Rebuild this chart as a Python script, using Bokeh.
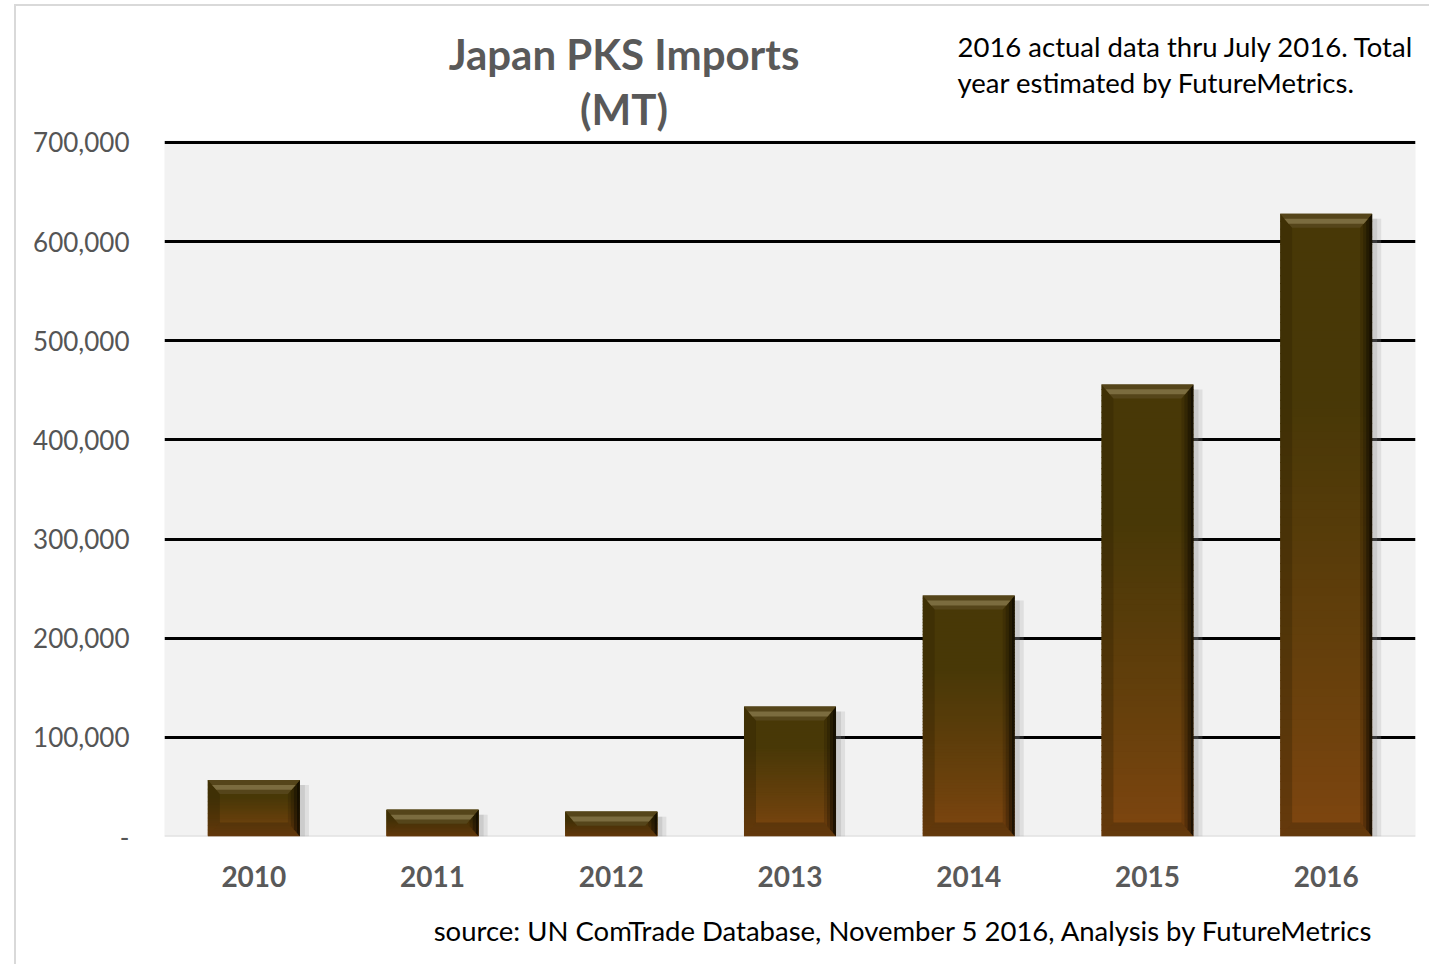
from bokeh.plotting import figure
from bokeh.models import Range1d, FixedTicker, NumeralTickFormatter, Label, Span
from bokeh.embed import file_html
from bokeh.resources import INLINE

# ---- data ----
years = ["2010", "2011", "2012", "2013", "2014", "2015", "2016"]
imports = [57000, 27000, 25000, 131000, 243000, 456000, 628000]
y_ticks = [0, 100000, 200000, 300000, 400000, 500000, 600000, 700000]

title_lines = ["Japan PKS Imports", "(MT)"]
note_lines = ["2016 actual data thru July 2016.  Total", "year estimated by FutureMetrics."]
source_text = "source: UN ComTrade Database, November 5 2016, Analysis by FutureMetrics"

# ---- layout constants ----
FRAME_W, FRAME_H = 1251, 696
Y_TOP = 702000
X_LO, X_HI = -0.5, len(years) - 0.5
px_x = (X_HI - X_LO) / FRAME_W
px_y = Y_TOP / FRAME_H
BW = 0.515
FONT = "Lato"

p = figure(width=1415, height=960, output_backend="svg", toolbar_location=None,
           x_range=Range1d(X_LO, X_HI), y_range=Range1d(0, Y_TOP),
           min_border_left=148, min_border_right=16, min_border_top=134, min_border_bottom=130)
p.margin = (6, 0, 0, 16)
p.styles = {"box-shadow": "-2px -2px 0 0 #D9D9D9"}
p.background_fill_color = "#F2F2F2"
p.border_fill_color = "white"
p.outline_line_color = None

# axes
p.yaxis.ticker = FixedTicker(ticks=y_ticks)
p.yaxis.formatter = NumeralTickFormatter(format="0,0")
p.yaxis.major_label_overrides = {0: "-"}
p.yaxis.axis_line_color = None
p.yaxis.major_tick_line_color = None
p.yaxis.minor_tick_line_color = None
p.yaxis.major_tick_out = 0
p.yaxis.major_tick_in = 0
p.yaxis.major_label_standoff = 35
p.yaxis.major_label_text_font = FONT
p.yaxis.major_label_text_font_size = "26px"
p.yaxis.major_label_text_color = "#555555"

p.xaxis.ticker = FixedTicker(ticks=list(range(len(years))))
p.xaxis.major_label_overrides = {i: y for i, y in enumerate(years)}
p.xaxis.axis_line_color = None
p.xaxis.major_tick_line_color = None
p.xaxis.minor_tick_line_color = None
p.xaxis.major_tick_out = 0
p.xaxis.major_tick_in = 0
p.xaxis.major_label_standoff = 29
p.xaxis.major_label_text_font = FONT
p.xaxis.major_label_text_font_size = "28px"
p.xaxis.major_label_text_font_style = "bold"
p.xaxis.major_label_text_color = "#595959"

p.xgrid.grid_line_color = None
p.ygrid.ticker = FixedTicker(ticks=y_ticks[1:])
p.ygrid.grid_line_color = "black"
p.ygrid.grid_line_width = 3

p.add_layout(Span(location=0, dimension="width", line_color="#D9D9D9", line_width=2, level="underlay"))

# ---- bars with gradient / bevel styling ----
def mix(c1, c2, s):
    return "#%02x%02x%02x" % tuple(int(round(a + (b - a) * s)) for a, b in zip(c1, c2))

BOTTOM_C = (0x80, 0x46, 0x10)
TOP_C = (0x48, 0x38, 0x07)
N = 80
B = 12 * px_x
BPY = 14 * px_y
EX, EY = 3 * px_x, 3.5 * px_y

sl, sr, sb, st, sc = [], [], [], [], []
shl, shr, sht = [], [], []
bev_xs, bev_ys, bev_c, bev_a = [], [], [], []
for i, v in enumerate(imports):
    l, r = i - BW / 2, i + BW / 2
    shl.append(r); shr.append(r + 9 * px_x); sht.append(max(v - 5 * px_y, 0))
    for k in range(N):
        t = (k + 0.5) / N
        s = min(1.0, t / 0.7) ** 0.85
        sl.append(l); sr.append(r)
        sb.append(v * k / N); st.append(min(v, v * (k + 1) / N + 0.8 * px_y))
        sc.append(mix(BOTTOM_C, TOP_C, s))
    # left bevel
    bev_xs.append([l, l, l + B, l + B]); bev_ys.append([v, 0, BPY, v - BPY]); bev_c.append("#2a1e04"); bev_a.append(0.3)
    # bottom bevel
    bev_xs.append([l, r, r - B, l + B]); bev_ys.append([0, 0, BPY, BPY]); bev_c.append("#3a2508"); bev_a.append(0.4)
    # right bevel: graded toward black at the edge
    for k, a in enumerate([0.85, 0.6, 0.35, 0.15]):
        d0x, d1x, d0y, d1y = k * EX, (k + 1) * EX, k * EY, (k + 1) * EY
        bev_xs.append([r - d0x, r - d0x, r - d1x, r - d1x])
        bev_ys.append([v - d0y, d0y, d1y, v - d1y])
        bev_c.append("#0e0900"); bev_a.append(a)
    # top bevel and highlight
    bev_xs.append([l, r, r - B, l + B]); bev_ys.append([v, v, v - BPY, v - BPY]); bev_c.append("#55451a"); bev_a.append(1.0)
    bev_xs.append([l + 0.35 * B, r - 0.35 * B, r - 0.7 * B, l + 0.7 * B])
    bev_ys.append([v - 0.35 * BPY, v - 0.35 * BPY, v - 0.7 * BPY, v - 0.7 * BPY])
    bev_c.append("#807044"); bev_a.append(0.9)

p.quad(left=shl, right=shr, top=sht, bottom=[0] * len(shl), fill_color="#9a9a9a", fill_alpha=0.22, line_color=None)
p.quad(left=shl, right=[x - 4 * px_x for x in shr], top=sht, bottom=[0] * len(shl), fill_color="#8a8a8a", fill_alpha=0.22, line_color=None)
p.quad(left=sl, right=sr, bottom=sb, top=st, fill_color=sc, line_color=None)
p.patches(xs=bev_xs, ys=bev_ys, fill_color=bev_c, fill_alpha=bev_a, line_color=None)

# ---- texts in side panels (each panel is stacked outward from the frame) ----
def add_text(side, x, y, text, size, bold=False, color="black", align="left"):
    p.add_layout(Label(x=x, y=y, x_units="screen", y_units="screen", text=text,
                       text_font=FONT, text_font_size=size,
                       text_font_style="bold" if bold else "normal", text_color=color,
                       text_align=align, text_baseline="middle"), side)

add_text("above", 459.5, 32, title_lines[1], "42px", True, "#595959", "center")
add_text("above", 459.5, 36.6, title_lines[0], "42px", True, "#595959", "center")
add_text("above", 793, -5.8, note_lines[0], "27.5px")
add_text("below", 1209, -7.8, source_text, "27.5px", align="right")
add_text("below", 793, 873.2, note_lines[1], "27.5px")

open("out.html", "w").write(file_html(p, INLINE))
